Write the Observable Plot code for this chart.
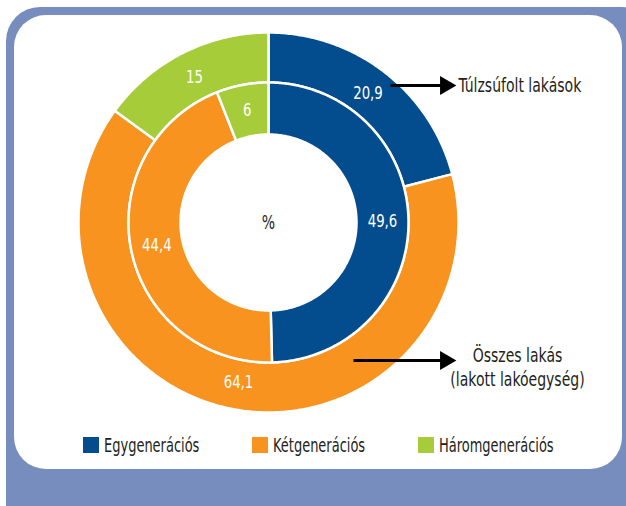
<!DOCTYPE html>
<html>
<head>
<meta charset="utf-8">
<script src="https://cdn.jsdelivr.net/npm/d3@7"></script>
<script src="https://cdn.jsdelivr.net/npm/@observablehq/plot@0.6"></script>
<style>
  body { margin: 0; background: #fff; }
  #wrap { position: relative; width: 626px; height: 506px; overflow: hidden;
    font-family: "DejaVu Sans Condensed", "Liberation Sans Narrow", sans-serif; color: #231f20; }
  #frame { position: absolute; left: 6px; top: 7px; width: 650px; height: 540px; background: #768dbe; border-radius: 34px; }
  #card { position: absolute; left: 14px; top: 15px; width: 608px; height: 454px; background: #fff; border-radius: 32px; }
  #chart { position: absolute; left: 0; top: 0; }
  #legend { position: absolute; left: 83px; top: 434px; display: grid; grid-template-columns: 169px 166px 160px; font-size: 19px; align-items: center; }
  .item { display: flex; align-items: center; white-space: nowrap; }
  .sw { width: 16px; height: 16px; display: inline-block; margin-right: 5px; flex: none; }
  .lab { display: inline-block; transform: scaleX(0.76); transform-origin: left center; }
</style>
</head>
<body>
<div id="wrap">
  <div id="frame"></div>
  <div id="card"></div>
  <div id="chart"></div>
  <div id="legend"></div>
</div>
<script>
const categories = ["Egygenerációs", "Kétgenerációs", "Háromgenerációs"];
const outerValues = [20.9, 64.1, 15];   // Túlzsúfolt lakások
const innerValues = [49.6, 44.4, 6];    // Összes lakás (lakott lakóegység)
const colors = ["#034d8e", "#f7931e", "#a6cd39"];
const ringNames = ["Túlzsúfolt lakások", "Összes lakás"];
const ringSubtitle = "(lakott lakóegység)";

const cx = 268, cy = 222;
const rings = [
  {name: ringNames[0], values: outerValues, r0: 140, r1: 190, rl: 163},
  {name: ringNames[1], values: innerValues, r0: 88, r1: 140, rl: 114}
];
const pt = (a, r) => [cx + r * Math.sin(a), cy - r * Math.cos(a)];

const polys = [], labels = [];
rings.forEach((ring, ri) => {
  const total = d3.sum(ring.values);
  let acc = 0;
  ring.values.forEach((v, i) => {
    const a0 = acc / total * 2 * Math.PI;
    acc += v;
    const a1 = acc / total * 2 * Math.PI;
    const key = ri + "-" + i;
    const n = Math.max(2, Math.ceil((a1 - a0) / 0.01));
    for (let k = 0; k <= n; k++) {
      const [x, y] = pt(a0 + (a1 - a0) * k / n, ring.r1);
      polys.push({key, cat: categories[i], x, y});
    }
    for (let k = n; k >= 0; k--) {
      const [x, y] = pt(a0 + (a1 - a0) * k / n, ring.r0);
      polys.push({key, cat: categories[i], x, y});
    }
    const [lx, ly] = pt((a0 + a1) / 2, ring.rl);
    labels.push({x: lx, y: ly, text: String(v).replace(".", ",")});
  });
});

const arrows = [
  {x1: 390, x2: 446, y: 85},
  {x1: 353, x2: 446, y: 360}
];
const note1 = [{x: 458, y: 85, text: ringNames[0]}];
const note2 = [{x: 517, y: 355, text: ringNames[1]}, {x: 517, y: 379, text: ringSubtitle}];

const font = '"DejaVu Sans Condensed", "Liberation Sans Narrow", sans-serif';
const chart = Plot.plot({
  width: 626, height: 430,
  margin: 0,
  x: {domain: [0, 626], range: [0, 626], axis: null},
  y: {domain: [0, 430], range: [0, 430], axis: null},
  color: {domain: categories, range: colors},
  style: {background: "transparent", fontFamily: font, overflow: "visible"},
  marks: [
    Plot.line(polys, {x: "x", y: "y", z: "key", fill: "cat", stroke: "white", strokeWidth: 2.5, curve: "linear-closed"}),
    Plot.text(labels, {x: "x", y: "y", text: "text", fill: "white", fontSize: 18}),
    Plot.text(["%"], {x: [cx], y: [cy], text: d => d, fill: "#231f20", fontSize: 19}),
    Plot.link(arrows, {x1: "x1", x2: "x2", y1: "y", y2: "y", stroke: "black", strokeWidth: 3}),
    Plot.dot(arrows, {x: d => d.x2 - 1, y: "y", symbol: "triangle", rotate: 90, r: 7, fill: "black", stroke: null}),
    Plot.text(note1, {x: "x", y: "y", text: "text", textAnchor: "start", fill: "#231f20", fontSize: 19}),
    Plot.text(note2, {x: "x", y: "y", text: "text", textAnchor: "middle", fill: "#231f20", fontSize: 19})
  ]
});
document.getElementById("chart").appendChild(chart);
// condense glyphs to mimic the narrow typeface of the original
d3.select(chart).selectAll("text").each(function() {
  const L = this.getComputedTextLength();
  if (L > 0) {
    this.setAttribute("textLength", L * 0.82);
    this.setAttribute("lengthAdjust", "spacingAndGlyphs");
  }
});

const leg = document.getElementById("legend");
categories.forEach((c, i) => {
  const it = document.createElement("div");
  it.className = "item";
  it.innerHTML = `<span class="sw" style="background:${colors[i]}"></span><span class="lab">${c}</span>`;
  leg.appendChild(it);
});
</script>
</body>
</html>
